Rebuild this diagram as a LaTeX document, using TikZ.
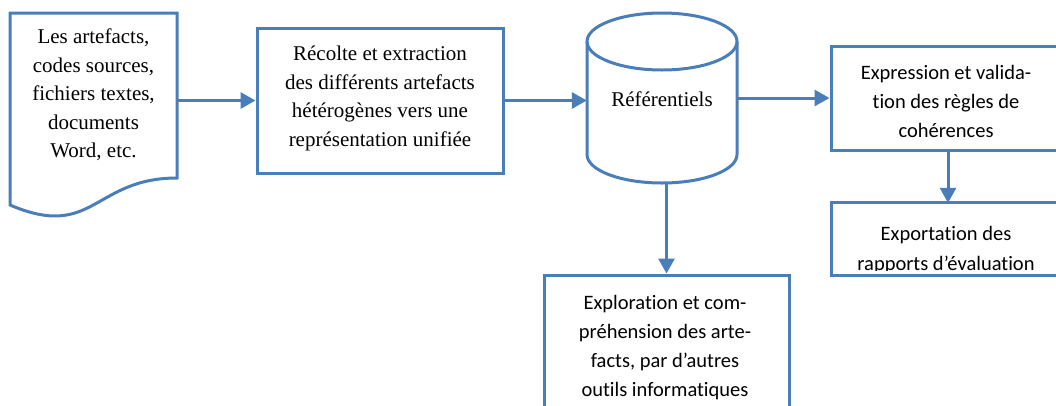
\documentclass[tikz,border=0pt]{standalone}
\usepackage{fontspec}
\setmainfont{Liberation Serif}
\newfontfamily\calib[RawFeature={-liga;-clig;-calt;-dlig}]{Carlito}
\usetikzlibrary{arrows.meta}
\definecolor{flowblue}{HTML}{4A7EBB}
\begin{document}
\begin{tikzpicture}[x=1pt,y=1pt,
  outline/.style={draw=flowblue, line width=3pt, line join=miter},
  box/.style={outline, fill=white, rectangle, inner sep=0pt},
  ghost/.style={rectangle, inner sep=0pt, draw=none},
  serif/.style={align=center, inner sep=0pt, font=\fontsize{21}{28.5}\selectfont},
  sans/.style={align=center, inner sep=0pt, font=\calib\fontsize{20.5}{29}\selectfont},
  arr/.style={draw=flowblue, line width=3pt, -{Triangle[length=15pt,width=16pt]}}]
\useasboundingbox (0,0) rectangle (1056,-405);
\clip (0,0) rectangle (1056,-405);
\fill[white] (0,0) rectangle (1056,-405);

% source document (flowchart "document" shape)
\node[ghost, minimum width=167pt, minimum height=175pt] (doc) at (93.5,-100.5) {};
\draw[outline] (10,-13) -- (177,-13) -- (177,-178)
  .. controls (93.5,-178) and (93.5,-240.7) .. (10,-205) -- cycle;
\node[serif] (doctext) at (93.5,-95) {Les artefacts,\\codes sources,\\fichiers textes,\\documents\\Word, etc.};

% extraction step
\node[box, minimum width=246pt, minimum height=145pt] (recolte) at (380,-100.5) {};
\node[serif] (recoltetext) at (380,-98.5) {Récolte et extraction\\des différents artefacts\\hétérogènes vers une\\représentation unifiée};

% repository (cylinder)
\node[ghost, minimum width=150pt, minimum height=170pt] (ref) at (662,-98) {};
\draw[outline] (587,-41.5) -- (587,-154.5)
  arc[start angle=180, end angle=360, x radius=75, y radius=28.5]
  -- (737,-41.5);
\draw[outline] (662,-41.5) ellipse[x radius=75, y radius=28.5];
\node[serif] (reftext) at (662,-99) {Référentiels};

% rule expression and validation
\node[box, minimum width=234pt, minimum height=104pt] (expr) at (948,-98) {};
\node[sans] (exprtext) at (946,-101) {Expression et valida-\\tion des règles de\\cohérences};

% evaluation reports (text clipped by the frame)
\node[ghost, fill=white, minimum width=232pt, minimum height=72pt] (export) at (948,-239) {};
\begin{scope}
  \clip (833.5,-204.5) rectangle (1070,-270);
  \node[sans, font=\calib\fontsize{20.5}{30}\selectfont] (exporttext) at (946,-250.5) {Exportation des\\rapports d’évaluation};
\end{scope}
\draw[outline] (export.north west) rectangle (export.south east);

% exploration by other tools
\node[box, minimum width=245pt, minimum height=155pt] (explo) at (666.5,-352.5) {};
\node[sans] (explotext) at (665,-347.5) {Exploration et com-\\préhension des arte-\\facts, par d’autres\\outils informatiques};

% connectors
\draw[arr] (doc.east) -- (recolte.west);
\draw[arr] (recolte.east) -- (recolte.east -| ref.west);
\draw[arr] (ref.east) -- (expr.west);
\draw[arr] (explo.north |- ref.south) -- (explo.north);
\draw[arr] (expr.south) -- (export.north);
\end{tikzpicture}
\end{document}
